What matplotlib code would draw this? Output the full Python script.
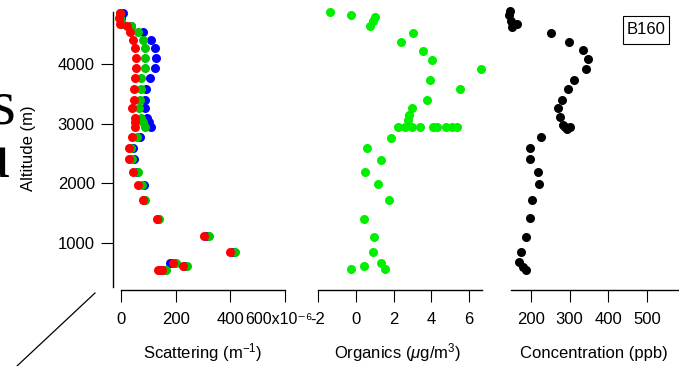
"""
Vertical profiles for flight B160: aerosol scattering (three wavelengths),
organics mass and gas concentration against altitude, Igor-style layout.
"""

import matplotlib
matplotlib.use("Agg")
import matplotlib.pyplot as plt
from matplotlib.patches import Rectangle
from matplotlib.lines import Line2D
from matplotlib.transforms import ScaledTranslation

plt.rcParams["font.family"] = ["Liberation Sans", "DejaVu Sans"]
plt.rcParams["mathtext.fontset"] = "custom"
plt.rcParams["mathtext.rm"] = "Liberation Sans"
plt.rcParams["mathtext.it"] = "Liberation Sans:italic"
plt.rcParams["axes.unicode_minus"] = False

W, H = 679, 366

# ---- data ----
scat_alt = [4860, 4770, 4670, 4630, 4540, 4400, 4270, 4100, 3935, 3765, 3582,
            3398, 3264, 3096, 3028, 2945, 2777, 2600, 2408, 2190, 1973, 1721,
            1403, 1118, 850, 666, 616, 548, 548]
scat_blue = [7, 0, 5, 36, 80, 110, 124, 128, 124, 106, 91,
             88, 88, 95, 102, 110, 70, 44, 48, 58, 84, 84,
             135, 315, 410, 179, 234, 143, 158]
scat_green = [-2, -5, 2, 38, 62, 80, 88, 88, 88, 73, 73,
              70, 66, 73, 80, 88, 58, 37, 40, 62, 77, 88,
              139, 322, 417, 201, 241, 154, 165]
scat_red = [-4, -8, -4, 22, 33, 44, 51, 55, 55, 51, 48,
            48, 40, 51, 51, 51, 40, 29, 29, 44, 62, 80,
            132, 304, 399, 190, 227, 135, 150]

org_alt = [4872, 4822, 4788, 4721, 4637, 4520, 4369, 4218, 4067, 3917, 3732,
           3582, 3398, 3264, 3147, 3063, 2945, 2945, 2945, 2945, 2945, 2945,
           2945, 2945, 2945, 2760, 2593, 2392, 2190, 1989, 1721, 1403, 1102,
           850, 666, 616, 565, 565]
org_val = [-1.38, -0.26, 1.01, 0.90, 0.74, 3.02, 2.38, 3.54, 4.02, 6.61, 3.92,
           5.50, 3.76, 2.96, 2.80, 2.75, 2.22, 2.59, 2.96, 3.39, 4.07, 4.30,
           4.76, 5.10, 5.34, 1.85, 0.58, 1.32, 0.48, 1.16, 1.75, 0.42, 0.95,
           0.90, 1.32, 0.42, 1.53, -0.26]

conc_alt = [4890, 4822, 4721, 4671, 4621, 4520, 4369, 4235, 4084, 3917, 3732,
            3582, 3398, 3264, 3113, 2979, 2945, 2945, 2911, 2777, 2593, 2408,
            2190, 1989, 1721, 1420, 1102, 850, 682, 598, 548]
conc_val = [146, 143, 148, 164, 151, 252, 298, 334, 347, 342, 311,
            296, 280, 270, 275, 283, 288, 301, 293, 226, 197, 197,
            218, 221, 203, 197, 187, 174, 169, 179, 187]

alt_ticks = [1000, 2000, 3000, 4000]
scat_ticks = [0, 200, 400, 600]
scat_ticklabels = ["0", "200", "400", "600x10\u207b\u2076"]
org_ticks = [-2, 0, 2, 4, 6]
org_ticklabels = ["-2", "0", "2", "4", "6"]
conc_ticks = [200, 300, 400, 500]
conc_ticklabels = ["200", "300", "400", "500"]

FS = 12
MS = 6.5
TICK_LEN = 8.6
OUT = 2.2  # bottom axis drawn a few px below the plot area


def fx(x):
    return x / W


def fy(y):
    return 1 - y / H


def style_axis(ax, ticks, labels, bounds):
    for side in ("top", "right", "left"):
        ax.spines[side].set_visible(False)
    ax.spines["bottom"].set_position(("outward", OUT))
    ax.spines["bottom"].set_bounds(*bounds)
    ax.spines["bottom"].set_linewidth(1.0)
    ax.set_xticks(ticks)
    ax.set_xticklabels(labels)
    ax.tick_params(axis="x", direction="out", length=TICK_LEN, width=0.8,
                   pad=15.5, labelsize=FS)
    plt.setp(ax.get_xticklabels(), va="baseline")
    ax.set_yticks([])
    ax.set_ylim(263, 4872)
    ax.patch.set_visible(False)


fig = plt.figure(figsize=(W / 100, H / 100), dpi=100)
top, bot = 12, 287
ax1 = fig.add_axes([fx(113), fy(bot), fx(285 - 113), (bot - top) / H])
ax2 = fig.add_axes([fx(318), fy(bot), fx(482 - 318), (bot - top) / H])
ax3 = fig.add_axes([fx(511), fy(bot), fx(678 - 511), (bot - top) / H])

# scattering, three channels
for vals, col in ((scat_blue, "#0000FF"), (scat_green, "#00C800"), (scat_red, "#FF0000")):
    ax1.plot(vals, scat_alt, "o", color=col, ms=MS, mew=0, clip_on=False)
ax1.set_xlim(-29.3, 600)
style_axis(ax1, scat_ticks, scat_ticklabels, (0, 600))
ax1.spines["left"].set_visible(True)
ax1.spines["left"].set_linewidth(1.0)
ax1.set_yticks(alt_ticks)
ax1.set_yticklabels([str(t) for t in alt_ticks])
ax1.tick_params(axis="y", direction="out", length=TICK_LEN, width=0.8,
                pad=4.5, labelsize=FS)
# nudge the exponent label left so it just meets the "-2" of the next panel
last = ax1.get_xticklabels()[-1]
last.set_fontsize(11.5)
last.set_transform(last.get_transform() + ScaledTranslation(-0.06, 0, fig.dpi_scale_trans))

# organics
ax2.plot(org_val, org_alt, "o", color="#00F000", ms=MS, mew=0, clip_on=False)
ax2.set_xlim(-2, 6.68)
style_axis(ax2, org_ticks, org_ticklabels, (-2, 6.68))

# concentration
ax3.plot(conc_val, conc_alt, "o", color="black", ms=MS, mew=0, clip_on=False)
ax3.set_xlim(148.3, 580.2)
style_axis(ax3, conc_ticks, conc_ticklabels, (148.3, 580.2))

# axis titles
fig.text(fx(28), fy(148), "Altitude (m)", rotation=90, ha="center", va="center", fontsize=FS)
fig.text(fx(203), fy(358), r"Scattering (m$^{-1}$)", ha="center", va="baseline", fontsize=FS)
fig.text(fx(398), fy(358), r"Organics ($\mu$g/m$^{3}$)", ha="center", va="baseline", fontsize=FS)
fig.text(fx(594), fy(358), "Concentration (ppb)", ha="center", va="baseline", fontsize=FS)

# flight tag
fig.add_artist(Rectangle((fx(623), fy(44)), fx(46), 28 / H, transform=fig.transFigure,
                         fill=False, edgecolor="black", linewidth=0.8))
fig.text(fx(646), fy(30), "B160", ha="center", va="center", fontsize=FS)

# bits of the surrounding slide that got cropped in
fig.text(fx(15), fy(123), "s", ha="right", va="baseline", fontsize=46,
         family="Liberation Serif")
fig.text(fx(9), fy(178), "u", ha="right", va="baseline", fontsize=46,
         family="Liberation Serif")
fig.add_artist(Line2D([fx(95), fx(17)], [fy(293), fy(366)], transform=fig.transFigure,
                      color="black", linewidth=0.9))

fig.savefig("out.png", dpi=100)
